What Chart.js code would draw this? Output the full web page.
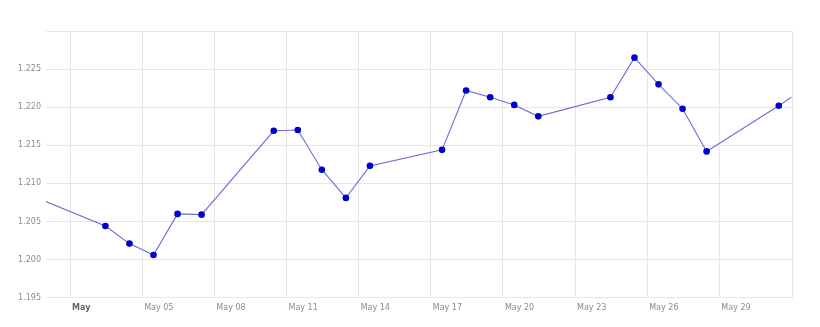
<!DOCTYPE html>
<html>
<head>
<meta charset="utf-8">
<script src="https://cdn.jsdelivr.net/npm/chart.js@4/dist/chart.umd.min.js"></script>
<style>
  html, body { margin: 0; padding: 0; background: #fff; }
  #wrap { width: 820px; height: 327px; }
</style>
</head>
<body>
<div id="wrap"><canvas id="myChart" width="820" height="327"></canvas></div>
<script>
// day of month (Apr 30 = 0, Jun 1 = 32), quotes taken around midday
var days = [0, 3, 4, 5, 6, 7, 10, 11, 12, 13, 14, 17, 18, 19, 20, 21, 24, 25, 26, 27, 28, 31, 32]
var rates = [1.2083, 1.2044, 1.2021, 1.2006, 1.2060, 1.2059, 1.2169, 1.2170, 1.2118, 1.2081, 1.2123,
             1.2144, 1.2222, 1.2213, 1.2203, 1.2188, 1.2213, 1.2265, 1.2230, 1.2198, 1.2142, 1.2202, 1.2223]
var tickDays = [2, 5, 8, 11, 14, 17, 20, 23, 26, 29]
var tickLabels = ["May", "May 05", "May 08", "May 11", "May 14", "May 17", "May 20", "May 23", "May 26", "May 29"]
var yMin = 1.195, yMax = 1.230, yStep = 0.005
var timeOfDay = 0.47

var points = []
for (var i = 0; i < days.length; i++) {
    points.push({x: days[i] + timeOfDay, y: rates[i]})
}

var labelFont = "'DejaVu Sans', Verdana, sans-serif"

var ctx = document.getElementById("myChart").getContext('2d')
var chart = new Chart(ctx, {
    type: 'line',
    data: {
        datasets: [{
            label: "EUR/USD",
            data: points,
            borderColor: "#6a6ad8",
            borderWidth: 1.1,
            pointBackgroundColor: "#0000cc",
            pointBorderColor: "#0000cc",
            pointRadius: 3.3,
            pointBorderWidth: 0,
            tension: 0
        }]
    },
    options: {
        responsive: false,
        animation: false,
        layout: { padding: { left: 0, top: 31, right: 28.5, bottom: 0 } },
        plugins: { legend: { display: false }, tooltip: { enabled: false } },
        scales: {
            x: {
                type: 'linear',
                min: 1,
                max: 32,
                afterBuildTicks: function(axis){
                    axis.ticks = tickDays.map(function(d){ return {value: d} })
                },
                afterFit: function(axis){ axis.height = 29.3 },
                grid: { color: "#e6e6e6", drawTicks: false },
                border: { display: true, color: "#e6e6e6" },
                ticks: {
                    autoSkip: false,
                    maxRotation: 0,
                    align: 'start',
                    labelOffset: 2,
                    padding: 5.5,
                    color: function(c){ return c.index === 0 ? "#666" : "#8c8c8c" },
                    font: function(c){
                        return { family: labelFont, size: 8, weight: c.index === 0 ? 'bold' : 'normal' }
                    },
                    callback: function(v, i){ return tickLabels[i] }
                }
            },
            y: {
                min: yMin,
                max: yMax,
                afterFit: function(axis){ axis.width = 46 },
                grid: { color: "#e6e6e6", drawTicks: false },
                border: { display: false },
                ticks: {
                    stepSize: yStep,
                    padding: 5,
                    color: "#8c8c8c",
                    font: { family: labelFont, size: 8 },
                    callback: function(v){
                        if (Math.abs(v - yMax) < 1e-6) return ''
                        return v.toFixed(3)
                    }
                }
            }
        }
    },
    plugins: [{
        id: 'rightEdge',
        afterDraw: function(c){
            var a = c.chartArea, g = c.ctx
            g.save()
            g.strokeStyle = "#e6e6e6"
            g.lineWidth = 1
            g.beginPath()
            g.moveTo(Math.round(a.right) + 0.5, a.top)
            g.lineTo(Math.round(a.right) + 0.5, a.bottom)
            g.stroke()
            g.restore()
        }
    }]
})
</script>
</body>
</html>
